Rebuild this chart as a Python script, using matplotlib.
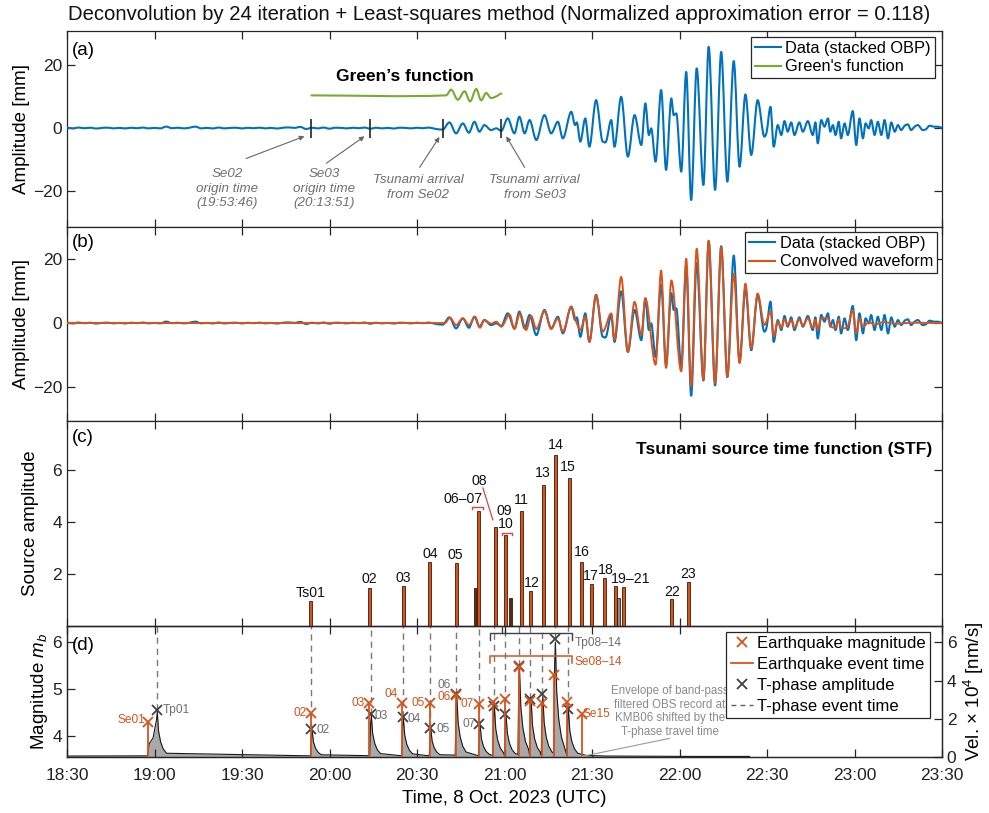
import numpy as np
import matplotlib
matplotlib.use('Agg')
import matplotlib.pyplot as plt
from matplotlib.path import Path
from matplotlib.patches import PathPatch
from matplotlib.lines import Line2D

plt.rcParams['font.family'] = ['Liberation Sans', 'DejaVu Sans']
plt.rcParams['mathtext.fontset'] = 'custom'
plt.rcParams['mathtext.rm'] = 'Liberation Sans'
plt.rcParams['mathtext.it'] = 'Liberation Sans:italic'

BLUE = '#0072BD'; ORANGE = '#D95319'; GREEN = '#77AC30'; GTXT = '#6e6e6e'

# ---------------- data (time in minutes after 18:30 UTC) ----------------
tick_labels = ['18:30', '19:00', '19:30', '20:00', '20:30', '21:00', '21:30',
               '22:00', '22:30', '23:00', '23:30']

noise_t = [0, 2, 4, 6, 8, 10, 12, 14, 16, 18, 20, 22, 24, 26, 28, 30, 32, 34, 36, 38,
           40, 42, 44, 46, 48, 50, 52, 54, 56, 58, 60, 62, 64, 66, 68, 70, 72, 74, 76,
           78, 80, 82, 84, 86, 88, 90, 92, 94, 96, 98, 100, 102, 104, 106, 108, 110,
           112, 114, 116, 118, 120, 122, 124, 126]
noise_a = [0.1, -0.1, 0.15, -0.05, 0.1, -0.15, 0.05, 0.12, -0.1, 0.05, -0.12, 0.1, -0.05,
           0.15, -0.1, 0.05, -0.1, 0.45, -0.05, 0.1, -0.1, 0.1, 0.45, -0.1, 0.05, -0.12,
           0.15, -0.1, 0.05, 0.1, -0.12, 0.08, -0.05, 0.12, -0.1, 0.05, -0.15, 0.1, 0.2,
           0.05, 0.35, -0.3, 0.1, -0.1, 0.15, -0.2, 0.1, 0.05, -0.1, 0.1, -0.05, 0.15,
           -0.2, 0.1, -0.1, 0.05, -0.15, 0.1, 0.05, -0.1, 0.1, -0.05, 0.15, -0.2]

data_t = [128.8, 131.1, 133.4, 135.7, 137.8, 139.7, 141.4, 143.1, 145.4, 147.2, 148.9,
          151.1, 153.4, 155.1, 156.9, 158.6, 160.9, 163.7, 166.0, 168.3, 170.0,
          172.9, 174.2, 174.8, 176.0, 177.7, 179.1, 181.4, 183.7, 184.9, 186.6, 187.7,
          190.0, 192.3, 194.6, 196.9, 198.3, 199.5, 200.3, 201.8, 203.7, 205.4, 207.2,
          208.0, 208.9, 210.6, 212.3,
          214.0, 215.9, 218.2, 220.0, 222.2, 224.3, 226.4, 228.6, 230.6, 232.6, 234.6,
          236.8, 239.1, 239.9, 241.2, 242.3, 243.7, 244.9, 246.0, 247.1, 248.3, 249.4,
          251.1, 252.3, 254.0,
          255.7, 256.6, 257.4, 258.6, 259.7, 260.9, 261.7, 262.6, 263.5, 264.6, 265.4,
          266.6, 267.7, 269.4, 270.6, 271.7, 272.9, 273.8, 274.9, 275.7, 276.9, 278.0,
          279.2, 280.3, 281.5, 282.6, 283.8, 284.9, 286.0, 287.2, 288.3, 289.4, 290.6,
          291.7, 293.4, 294.6, 295.7, 297.4, 298.6, 300.0]
data_a = [-0.5, 1.79, -1.68, 1.47, -1.47, 1.99, -1.15, 0.94, -0.63, -0.1, -0.9,
          3.04, -1.68, 3.57, -1.68, 2.52, -3.78, 4.09, -1.68, 1.99, -3.25,
          5.14, 0.94, 1.78, -4.3, 3.04, -5.88, 8.82, -4.3, -4.09, 2.52, -5.88,
          9.87, -9.03, 4.09, -5.35, 7.77, -2.2, -0.1, -10.6, 11.97, -13.2, 9.34,
          4.09, 4.62, -13.75, 17.7,
          -22.7, 18.8, -17.95, 25.6, -19.5, 24.0, -16.9, 21.1, -12.2, 10.6, -8.5,
          8.8, -2.7, -1.15, 6.7, -5.9, 0.94, -2.2, 2.2, -1.15, 1.78, -2.2,
          1.78, -1.15, 2.2,
          -2.2, 1.78, -4.83, 2.52, 0.42, 3.04, -1.15, 0.94, -2.2, 1.99, -3.25,
          1.47, -2.2, 5.35, -5.35, 3.04, -3.25, 1.47, -0.1, 2.52, -2.2, 1.99,
          -2.2, 2.52, -3.25, 1.78, -1.15, 0.94, -0.63, 0.73, 1.15, -0.63, 0.42,
          0.94, -0.63, -0.31, 0.73, 0.42, 0.42, 0.1]

conv_t = [0.0, 129.5, 131.3, 133.4, 135.7, 137.8, 139.9, 141.6, 143.1, 145.4, 147.2, 148.9,
          151.7, 153.4, 155.3, 157.4, 159.1, 160.9, 163.7, 166.0, 168.3, 170.0,
          172.9, 174.6, 176.0, 177.7, 179.1, 181.4, 183.7, 186.6, 187.7, 190.0, 192.3,
          194.6, 196.9, 198.3, 201.8, 203.7, 205.4, 207.2, 210.6, 212.3,
          214.0, 215.9, 218.2, 220.0, 222.2, 224.3, 226.4, 228.6, 230.6, 232.6, 234.6,
          236.8, 239.1, 241.2, 242.3, 243.7, 244.9, 246.0, 247.1, 248.3, 249.4, 251.1,
          252.3, 254.0, 255.7, 256.6, 257.4, 258.6, 260.9, 261.7, 263.5, 264.6, 265.4,
          267.7, 269.4, 270.6, 271.7, 272.9, 274.9, 276.9, 280.0, 284.0, 290.0, 300.0]
conv_a = [0.0, 0.0, 1.65, -0.62, 1.45, -0.62, 1.96, -1.45, 0.93, -0.2, 0.41, -1.14,
          2.69, -1.86, 3.0, -2.17, 2.27, -1.86, 3.72, -1.86, 1.45, -2.69,
          5.07, 0.41, -2.17, 1.96, -5.8, 8.68, -2.69, 3.0, -5.27, 14.4, -8.9,
          6.6, -3.72, 7.65, -13.0, 16.4, -14.0, 13.3, -15.1, 20.1,
          -19.7, 23.2, -17.7, 25.7, -18.7, 23.7, -16.6, 15.4, -12.5, 12.3, -7.9,
          9.2, -0.6, 3.5, -4.2, 0.5, -1.5, 1.2, -0.8, 1.0, -1.5, 1.2,
          -0.8, 1.5, -1.5, 1.0, -2.0, 1.5, 1.5, -0.8, -1.5, 1.2, -1.5,
          -1.0, 4.0, -3.2, 1.5, -1.2, 0.3, -0.5, 0.3, -0.2, 0.1, 0.0]

green_t = [83.8, 130.0, 131.7, 134.0, 136.3, 138.2, 140.3, 142.0, 143.7, 145.4, 147.2, 148.9]
green_a = [10.3, 10.31, 12.12, 8.93, 11.59, 8.40, 12.33, 8.72, 11.06, 9.46, 9.99, 10.85]

mark_t = [83.77, 103.85, 128.8, 148.9]   # Se02/Se03 origin, tsunami arrivals

stf_t = [83.5, 103.7, 115.4, 124.4, 133.4, 140.0, 141.2, 146.8, 150.2, 152.1, 155.7,
         158.8, 163.3, 167.6, 172.2, 176.5, 179.8, 184.2, 188.2, 189.1, 190.9, 207.4, 213.0]
stf_v = [0.97, 1.48, 1.54, 2.46, 2.42, 1.45, 4.45, 3.83, 3.51, 1.07, 4.45, 1.36,
         5.44, 6.59, 5.71, 2.47, 1.62, 1.85, 1.54, 1.07, 1.52, 1.05, 1.71]
stf_labels = ['Ts01', '02', '03', '04', '05', '06\u201307', '08', '09', '10', '11', '12',
              '13', '14', '15', '16', '17', '18', '19\u201321', '22', '23']

eq_t = [27.8, 83.7, 103.7, 115.0, 124.3, 133.2, 141.3, 146.0, 150.3, 155.1, 158.6,
        162.8, 167.0, 171.4, 176.5]
eq_mag = [4.30, 4.49, 4.70, 4.70, 4.70, 4.87, 4.67, 4.71, 4.79, 5.47, 4.74, 4.69,
          5.29, 4.71, 4.47]
tp_t = [30.7, 83.8, 104.1, 115.1, 124.5, 133.4, 141.4, 146.3, 150.3, 154.9, 158.9,
        162.9, 167.2, 171.7]
tp_amp = [2.45, 1.44, 2.23, 2.07, 1.50, 3.29, 1.72, 2.68, 2.23, 4.75, 3.03, 3.27, 6.19, 2.49]

# envelope spike shape read from the record (minutes after onset, fraction of peak)
env_dt = [-0.3, 0.0, 0.25, 0.7, 1.4, 2.3, 3.4]
env_frac = [0.03, 0.8, 0.97, 0.55, 0.32, 0.17, 0.08]

# ---------------- helpers ----------------
W, H = 989, 813
fig = plt.figure(figsize=(W / 100, H / 100), dpi=100)


def px_axes(l, t, r, b):
    return fig.add_axes([l / W, 1 - b / H, (r - l) / W, (b - t) / H])


def smooth_path(x, y):
    x = np.asarray(x, float); y = np.asarray(y, float)
    n = len(x)
    m = np.zeros(n)
    for i in range(1, n - 1):
        if (y[i] - y[i - 1]) * (y[i + 1] - y[i]) > 0:
            m[i] = (y[i + 1] - y[i - 1]) / (x[i + 1] - x[i - 1])
    verts = [(x[0], y[0])]; codes = [Path.MOVETO]
    for i in range(n - 1):
        h = x[i + 1] - x[i]
        verts += [(x[i] + h / 3, y[i] + m[i] * h / 3),
                  (x[i + 1] - h / 3, y[i + 1] - m[i + 1] * h / 3),
                  (x[i + 1], y[i + 1])]
        codes += [Path.CURVE4] * 3
    return Path(verts, codes)


def draw_curve(ax, x, y, color, lw, z=3):
    ax.add_patch(PathPatch(smooth_path(x, y), facecolor='none', edgecolor=color,
                           lw=lw, zorder=z, capstyle='round', joinstyle='round'))


def style(ax):
    for s in ax.spines.values():
        s.set_color('#262626'); s.set_linewidth(0.9)
    ax.set_xlim(0, 300)
    ax.set_xticks(np.arange(0, 301, 30))
    ax.tick_params(direction='in', length=6, width=0.9, colors='#262626',
                   labelsize=12.5, top=True, right=True, labelcolor='#222222')


def legend(ax, handles, labels, right, top, spacing=0.2, fs=11.8, hl=1.6):
    lg = ax.legend(handles, labels, loc='upper right', bbox_to_anchor=(right / W, 1 - top / H),
                   bbox_transform=fig.transFigure, borderaxespad=0, fancybox=False,
                   framealpha=1, edgecolor='#262626', fontsize=fs, handlelength=hl,
                   handletextpad=0.25, borderpad=0.25, labelspacing=spacing)
    lg.get_frame().set_linewidth(0.9)
    return lg


full_t = noise_t + data_t
full_a = noise_a + data_a

# ---------------- (a) ----------------
ax_a = px_axes(67, 31, 942, 227)
style(ax_a)
ax_a.set_ylim(-31.2, 30.6)
ax_a.set_yticks([-20, 0, 20])
ax_a.tick_params(labelbottom=False)
draw_curve(ax_a, full_t, full_a, BLUE, 1.5)
draw_curve(ax_a, green_t, green_a, GREEN, 1.5)
ax_a.vlines(mark_t, -3.0, 3.0, color='#222222', lw=1.2, zorder=4)
ax_a.set_ylabel('Amplitude [mm]', fontsize=13.5, labelpad=2)
ax_a.text(0.006, 0.9, '(a)', transform=ax_a.transAxes, fontsize=13.5, va='center')
ax_a.text(115.7, 16.2, 'Green\u2019s function', fontsize=12.5, fontweight='bold',
          ha='center', va='center')
ann = [('Se02\norigin time\n(19:53:46)', 55.0, -12.6, (61.4, -9.6), (81.4, -2.6)),
       ('Se03\norigin time\n(20:13:51)', 88.3, -12.6, (88.9, -11.1), (102.0, -2.6)),
       ('Tsunami arrival\nfrom Se02', 120.5, -14.6, (120.9, -12.4), (127.7, -2.8)),
       ('Tsunami arrival\nfrom Se03', 160.3, -14.6, (156.9, -12.4), (150.6, -2.6))]
for txt, tx, ty, p0, p1 in ann:
    ax_a.text(tx, ty, txt, ha='center', va='top', fontsize=9.6, style='italic',
              color=GTXT, linespacing=1.3)
    ax_a.annotate('', xy=p1, xytext=p0,
                  arrowprops=dict(arrowstyle='-|>', color='#666666', lw=0.8,
                                  mutation_scale=7, shrinkA=0, shrinkB=0))
legend(ax_a, [Line2D([], [], color=BLUE, lw=1.5), Line2D([], [], color=GREEN, lw=1.5)],
       ['Data (stacked OBP)', 'Green\'s function'], 935, 37)

# ---------------- (b) ----------------
ax_b = px_axes(67, 227, 942, 421)
style(ax_b)
ax_b.set_ylim(-30.6, 30.0)
ax_b.set_yticks([-20, 0, 20])
ax_b.tick_params(labelbottom=False)
draw_curve(ax_b, full_t, full_a, BLUE, 1.5, z=3)
draw_curve(ax_b, conv_t, conv_a, ORANGE, 1.4, z=4)
ax_b.set_ylabel('Amplitude [mm]', fontsize=13.5, labelpad=2)
ax_b.text(0.006, 0.92, '(b)', transform=ax_b.transAxes, fontsize=13.5, va='center')
legend(ax_b, [Line2D([], [], color=BLUE, lw=1.5), Line2D([], [], color=ORANGE, lw=1.5)],
       ['Data (stacked OBP)', 'Convolved waveform'], 937, 232)

# ---------------- (c) ----------------
ax_c = px_axes(67, 421, 942, 626)
style(ax_c)
ax_c.set_ylim(0, 7.9)
ax_c.set_yticks([2, 4, 6])
ax_c.tick_params(labelbottom=False)
bar_colors = [ORANGE] * len(stf_t)
for k in (5, 9):
    bar_colors[k] = '#5a2a16'
bar_colors[19] = '#8c8c8c'
ax_c.bar(stf_t, stf_v, width=1.0, color=bar_colors, edgecolor='#3a1a0c', linewidth=0.6,
         zorder=3)
lab_pos = [(83.4, 1.26), (103.7, 1.80), (115.4, 1.86), (124.5, 2.78), (133.2, 2.74),
           (135.9, 4.89), (141.5, 5.57), (150.1, 4.44), (150.3, 3.93), (155.8, 4.84),
           (159.2, 1.65), (163.1, 5.90), (167.5, 6.99), (171.8, 6.13), (176.5, 2.85),
           (179.6, 1.94), (184.6, 2.16), (193.4, 1.80), (207.4, 1.32), (213.1, 2.01)]
for s, (lx, ly) in zip(stf_labels, lab_pos):
    ax_c.text(lx, ly, s, ha='center', va='center', fontsize=10.2, color='#111111')
RED = '#e0443a'
ax_c.plot([138.9, 138.9, 142.6, 142.6], [4.50, 4.58, 4.58, 4.50], color=RED, lw=1.0)
ax_c.plot([149.2, 149.2, 152.6, 152.6], [3.50, 3.58, 3.58, 3.50], color=RED, lw=1.0)
ax_c.plot([142.6, 146.0], [5.32, 4.09], color=RED, lw=0.9)
ax_c.set_ylabel('Source amplitude', fontsize=13.5, labelpad=10)
ax_c.text(0.006, 0.92, '(c)', transform=ax_c.transAxes, fontsize=13.5, va='center')
ax_c.text(0.989, 0.86, 'Tsunami source time function (STF)', transform=ax_c.transAxes,
          ha='right', va='center', fontsize=12.5, fontweight='bold')

# ---------------- (d) ----------------
ax_d = px_axes(67, 626, 942, 757)
style(ax_d)
ax_d.tick_params(right=False)
ax_d.set_ylim(3.555, 6.33)
ax_d.set_yticks([4, 5, 6])
ax_d.set_xticklabels(tick_labels)
ax_d.tick_params(axis='x', pad=8)
ax_r = ax_d.twinx()
ax_r.set_ylim(0, 6.85)
ax_r.set_yticks([0, 2, 4, 6])
ax_r.tick_params(direction='in', length=6, width=0.9, colors='#262626', labelsize=12.5,
                 labelcolor='#222222')
for s in ax_r.spines.values():
    s.set_color('#262626'); s.set_linewidth(0.9)
ax_d.set_zorder(ax_r.get_zorder() + 1)
ax_d.patch.set_visible(False)

# envelope
ev_t = [0.0, 27.6, 28.2, 29.5]
ev_v = [0.05, 0.06, 0.7, 1.0]
for i, (t0, p) in enumerate(zip(tp_t, tp_amp)):
    nxt = tp_t[i + 1] if i + 1 < len(tp_t) else 1e9
    for dt, fr in zip(env_dt, env_frac):
        if i == 0 and dt < 0:
            continue
        if t0 + dt < nxt - 0.35:
            ev_t.append(t0 + dt); ev_v.append(max(p * fr, 0.06))
ev_t += [178.0, 185.0, 200.0, 215.0, 234.0]
ev_v += [0.08, 0.05, 0.04, 0.03, 0.03]
ax_r.fill_between(ev_t, 0, ev_v, color='#a9a9a9', lw=0, zorder=1)
ax_r.plot(ev_t, ev_v, color='#1a1a1a', lw=0.8, zorder=2)
# T-phase
ax_r.vlines(tp_t, tp_amp, 6.85, color='#7a7a7a', lw=1.0, linestyles=(0, (4.5, 3.5)), zorder=2)
ax_r.plot(tp_t, tp_amp, ls='none', marker='x', color='#404040', ms=7, mew=1.3, zorder=3)
# earthquakes
ax_d.vlines(eq_t, 3.555, eq_mag, color=ORANGE, lw=1.3, zorder=3)
ax_d.plot(eq_t, eq_mag, ls='none', marker='x', color=ORANGE, ms=7, mew=1.3, zorder=4)

ax_d.set_ylabel('Magnitude $m_b$', fontsize=13.5, labelpad=2)
ax_r.set_ylabel('Vel. \u00d7 10$^4$ [nm/s]', fontsize=13.5, labelpad=4)
ax_d.set_xlabel('Time, 8 Oct. 2023 (UTC)', fontsize=13.5, labelpad=5)
ax_d.text(0.006, 0.85, '(d)', transform=ax_d.transAxes, fontsize=13.5, va='center')

dl = [('Se01', 26.9, 4.34, 'right', ORANGE), ('Tp01', 32.7, 4.55, 'left', GTXT),
      ('02', 82.1, 4.49, 'right', ORANGE), ('02', 85.5, 4.13, 'left', GTXT),
      ('03', 102.0, 4.70, 'right', ORANGE), ('03', 105.4, 4.43, 'left', GTXT),
      ('04', 113.3, 4.90, 'right', ORANGE), ('04', 116.7, 4.37, 'left', GTXT),
      ('05', 122.6, 4.70, 'right', ORANGE), ('05', 126.7, 4.14, 'left', GTXT),
      ('06', 131.5, 4.82, 'right', ORANGE), ('06', 129.4, 5.08, 'center', GTXT),
      ('07', 139.4, 4.68, 'right', ORANGE), ('07', 140.0, 4.25, 'right', GTXT),
      ('Se15', 176.9, 4.47, 'left', ORANGE),
      ('Tp08\u201314', 173.9, 5.98, 'left', GTXT), ('Se08\u201314', 173.9, 5.57, 'left', ORANGE)]
for s, x, y, ha, c in dl:
    ax_d.text(x, y, s, ha=ha, va='center', fontsize=8.6, color=c, zorder=6)
ax_d.plot([144.9, 144.9, 173.3, 173.3], [6.04, 6.18, 6.18, 6.04], color='#404040', lw=1.0, zorder=5)
ax_d.plot([149.3, 149.3], [6.18, 6.33], color='#404040', lw=1.0, zorder=5)
ax_d.plot([144.9, 144.9, 173.3, 173.3], [5.55, 5.69, 5.69, 5.55], color=ORANGE, lw=1.1, zorder=5)
ax_d.text(206.6, 4.52, 'Envelope of band-pass\nfiltered OBS record at\nKMB06 shifted by the\n'
          'T-phase travel time', ha='center', va='center', fontsize=8.3, color='#8a8a8a',
          linespacing=1.2, zorder=6)
ax_d.plot([206.6, 176.8], [3.95, 3.57], color='#9a9a9a', lw=0.8, zorder=5)

lg = legend(ax_d, [Line2D([], [], color=ORANGE, marker='x', ls='none', ms=7, mew=1.3),
                   Line2D([], [], color=ORANGE, lw=1.3),
                   Line2D([], [], color='#404040', marker='x', ls='none', ms=7, mew=1.3),
                   Line2D([], [], color='#606060', lw=1.0, ls=(0, (3.5, 3.0)))],
            ['Earthquake magnitude', 'Earthquake event time', 'T-phase amplitude',
             'T-phase event time'], 930, 632, spacing=0.36, fs=12.0, hl=1.35)
lg.set_zorder(10)

fig.text(0.505, 1 - 14 / H, 'Deconvolution by 24 iteration + Least-squares method '
         '(Normalized approximation error = 0.118)', ha='center', va='center', fontsize=14.6,
         color='#111111')

fig.align_ylabels([ax_a, ax_b, ax_c, ax_d])
fig.savefig('out.png', dpi=100)
